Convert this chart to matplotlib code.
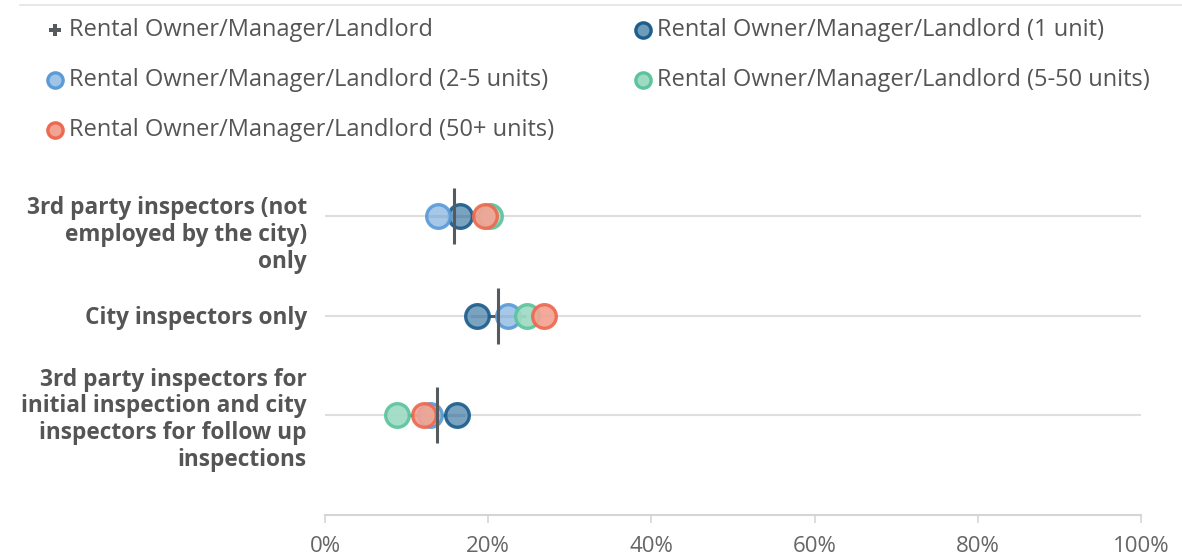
import matplotlib
matplotlib.use("Agg")
import matplotlib.pyplot as plt
from matplotlib.lines import Line2D
from matplotlib.transforms import ScaledTranslation

plt.rcParams['font.family'] = ['Open Sans', 'DejaVu Sans']

categories = [
    "3rd party inspectors (not\nemployed by the city)\nonly",
    "City inspectors only",
    "3rd party inspectors for\ninitial inspection and city\ninspectors for follow up\ninspections",
]
series_names = [
    "Rental Owner/Manager/Landlord",
    "Rental Owner/Manager/Landlord (1 unit)",
    "Rental Owner/Manager/Landlord (2-5 units)",
    "Rental Owner/Manager/Landlord (5-50 units)",
    "Rental Owner/Manager/Landlord (50+ units)",
]
overall = [15.8, 21.2, 13.7]
one_unit = [16.5, 18.6, 16.2]
two_five = [13.8, 22.4, 12.9]
five_fifty = [20.2, 24.8, 8.8]
fifty_plus = [19.6, 26.8, 12.1]
xticks = [0, 20, 40, 60, 80, 100]
xtick_labels = ["0%", "20%", "40%", "60%", "80%", "100%"]

edge_colors = ["#1d5e8d", "#5b9bd6", "#5cc49c", "#ec6a4f"]
face_colors = ["#6f9bbb", "#9ec4e8", "#9fdbc4", "#f2a393"]
circle_series = [one_unit, two_five, five_fifty, fifty_plus]

fig = plt.figure(figsize=(11.82, 5.6), dpi=100)
ax = fig.add_axes([325/1182, 1-515/560, (1141-325)/1182, (515-116)/560])

ypos = [0, 1, 2]
for y in ypos:
    ax.axhline(y, color="#dedede", lw=1.5, zorder=1)

# horizontal arm of aggregate plus (behind circles)
ax.plot(overall, ypos, ls="none", marker="_", ms=41, mew=2.2, color="#555a5e", zorder=2)

for i in range(4):
    ax.plot(circle_series[i], ypos, ls="none", marker="o", ms=17, mew=2.4,
            mec=edge_colors[i], mfc=face_colors[i], alpha=0.92, zorder=3+i)

ax.plot(overall, ypos, ls="none", marker="|", ms=41, mew=2.2, color="#555a5e", zorder=10)

ax.set_xlim(0, 100)
ax.set_ylim(3, -1)
ax.set_xticks(xticks)
ax.set_xticklabels(xtick_labels, fontsize=16, color="#666666")
ax.set_yticks(ypos)
ax.set_yticklabels(categories, fontsize=16.3, fontweight="bold", color="#555555",
                   linespacing=1.15)
ax.tick_params(axis="y", length=0, pad=13)
ax.tick_params(axis="x", length=6, width=1.2, color="#d5d5d5", pad=9)
for s in ["top", "right", "left"]:
    ax.spines[s].set_visible(False)
ax.spines["bottom"].set_color("#d5d5d5")
ax.spines["bottom"].set_linewidth(1.5)

# first category label sits a little lower in the reference
lbl0 = ax.get_yticklabels()[0]
lbl0.set_transform(lbl0.get_transform() + ScaledTranslation(0, -0.15, fig.dpi_scale_trans))

# top border line
fig.add_artist(Line2D([20/1182, 1], [1-5/560, 1-5/560], color="#e3e3e3", lw=1.2))

# legend (manual)
legend_pos = [(55, 30), (643, 30), (55, 80), (643, 80), (55, 130)]
for k, name in enumerate(series_names):
    mx, my = legend_pos[k]
    fx, fy = mx/1182, 1-my/560
    if k == 0:
        fig.add_artist(Line2D([fx], [fy], ls="none", marker="P", ms=8.5, color="#555a5e",
                              mew=0))
    else:
        i = k - 1
        fig.add_artist(Line2D([fx], [fy], ls="none", marker="o", ms=11, mew=2.4,
                              mec=edge_colors[i], mfc=face_colors[i]))
    fig.text((mx+14)/1182, fy, name, fontsize=17, color="#555555", va="center", ha="left")

fig.savefig("out.png", dpi=100)
